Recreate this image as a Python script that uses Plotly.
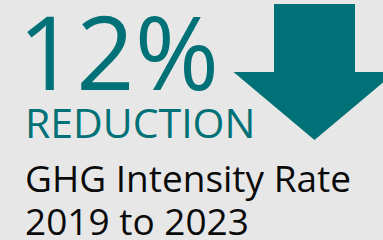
import plotly.graph_objects as go

# Data
reduction_pct = [12]
headline_label = ["REDUCTION"]
metric_lines = ["GHG Intensity Rate", "2019 to 2023"]
years = [2019, 2023]

TEAL = "#007176"
BG = "#e7e7e7"
FONT = "Open Sans"

W, H = 383, 240

fig = go.Figure()

# Down arrow (decorative), drawn on the hidden data axes
shaft_l, shaft_r, top, shoulder = 274, 355, 4, 72
head_half, tip_y = 81, 140
cx = (shaft_l + shaft_r) / 2
ax = [shaft_l, shaft_r, shaft_r, cx + head_half, cx, cx - head_half, shaft_l, shaft_l]
ay = [top, top, shoulder, shoulder, tip_y, shoulder, shoulder, top]
fig.add_trace(go.Scatter(x=ax, y=ay, mode="lines", fill="toself",
                         fillcolor=TEAL, line=dict(color=TEAL, width=0),
                         hoverinfo="skip", showlegend=False))

fig.add_annotation(x=16, y=50, text=f"{reduction_pct[0]}%", showarrow=False,
                   xanchor="left", yanchor="middle",
                   font=dict(family=FONT, size=102, color=TEAL))
fig.add_annotation(x=23, y=122, text=headline_label[0], showarrow=False,
                   xanchor="left", yanchor="middle",
                   font=dict(family=FONT, size=41, color=TEAL))
fig.add_annotation(x=23, y=177, text=metric_lines[0], showarrow=False,
                   xanchor="left", yanchor="middle",
                   font=dict(family=FONT, size=37, color="#0a0a0a"))
fig.add_annotation(x=23, y=220, text=f"{years[0]} to {years[1]}", showarrow=False,
                   xanchor="left", yanchor="middle",
                   font=dict(family=FONT, size=37, color="#0a0a0a"))

fig.update_layout(
    width=W, height=H,
    margin=dict(l=0, r=0, t=0, b=0),
    paper_bgcolor=BG, plot_bgcolor=BG,
    xaxis=dict(range=[0, W], visible=False, fixedrange=True),
    yaxis=dict(range=[H, 0], visible=False, fixedrange=True),
    showlegend=False,
)

fig.write_html("out.html", config={"displayModeBar": False},
               post_script="document.body.style.margin='0';document.body.style.overflow='hidden';")
